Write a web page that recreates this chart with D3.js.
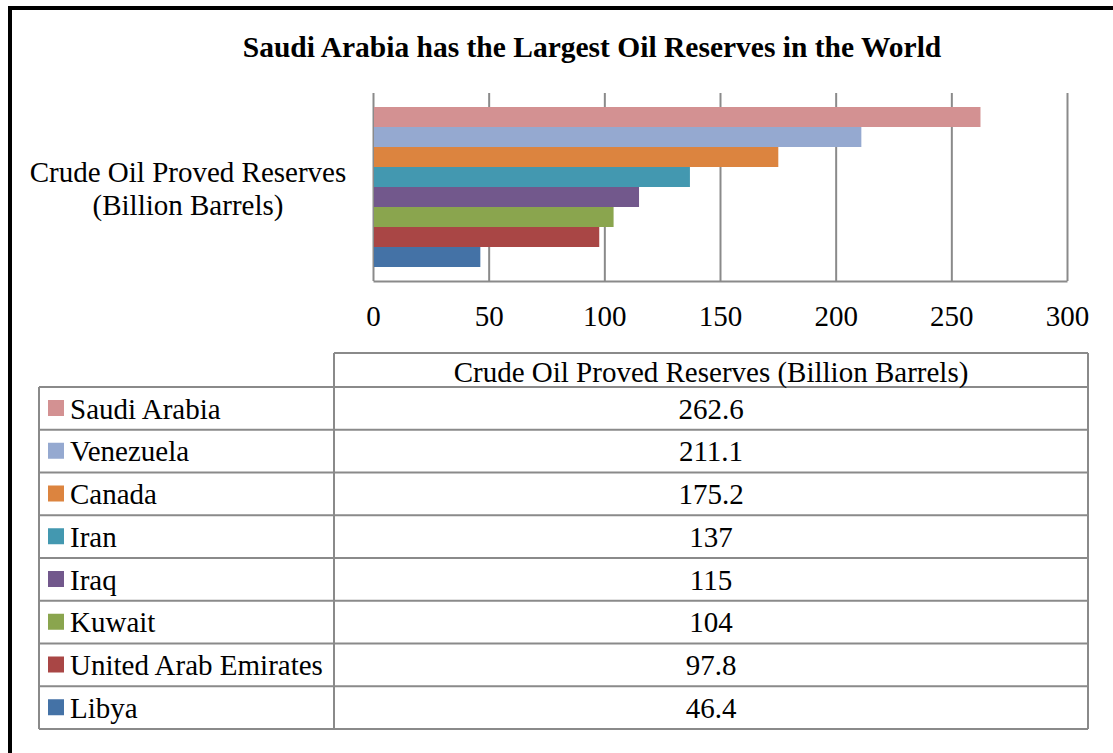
<!DOCTYPE html>
<html>
<head>
<meta charset="utf-8">
<script src="https://cdn.jsdelivr.net/npm/d3@7"></script>
<style>
  html, body { margin: 0; padding: 0; background: #fff; }
  svg { display: block; }
  text { font-family: "Liberation Serif", "Times New Roman", serif; fill: #000; }
</style>
</head>
<body>
<svg id="chart" width="1113" height="753"></svg>
<script>
// Crude oil proved reserves, billion barrels
const countries = ["Saudi Arabia", "Venezuela", "Canada", "Iran", "Iraq", "Kuwait", "United Arab Emirates", "Libya"];
const reserves = [262.6, 211.1, 175.2, 137, 115, 104, 97.8, 46.4];
const colors = ["#d39192", "#95a9d0", "#dc843f", "#4398b0", "#72588c", "#8aa54e", "#a94645", "#4472a6"];
const xTicks = [0, 50, 100, 150, 200, 250, 300];
const seriesLabel = "Crude Oil Proved Reserves (Billion Barrels)";
const axisLabelLines = ["Crude Oil Proved Reserves", "(Billion Barrels)"];
const title = "Saudi Arabia has the Largest Oil Reserves in the World";

const svg = d3.select("#chart");
const gridColor = "#8a8a8a";

// Outer frame (top and left edges)
svg.append("line").attr("x1", 8).attr("x2", 1113).attr("y1", 8).attr("y2", 8)
  .attr("stroke", "#000").attr("stroke-width", 4);
svg.append("line").attr("x1", 10).attr("x2", 10).attr("y1", 6).attr("y2", 753)
  .attr("stroke", "#000").attr("stroke-width", 4);

// Title
svg.append("text").attr("x", 592).attr("y", 57).attr("text-anchor", "middle")
  .style("font-size", "29.5px").style("font-weight", "bold").text(title);

// Plot area
const plot = { left: 373, right: 1067, top: 93, bottom: 281 };
const x = d3.scaleLinear().domain([0, 300]).range([plot.left, plot.right]);
const y = d3.scaleBand().domain(countries).range([plot.top, plot.bottom]).paddingOuter(0.7).paddingInner(0);

// Vertical gridlines
const grid = svg.append("g").attr("transform", `translate(0,${plot.top})`)
  .call(d3.axisTop(x).tickValues(xTicks).tickSize(-(plot.bottom - plot.top)).tickFormat(""));
grid.select(".domain").remove();
grid.selectAll(".tick line").attr("stroke", gridColor).attr("stroke-width", 2);

// Bars
svg.append("g").selectAll("rect").data(countries).join("rect")
  .attr("x", x(0) + 1)
  .attr("y", d => y(d))
  .attr("width", (d, i) => x(reserves[i]) - x(0) - 1)
  .attr("height", y.bandwidth())
  .attr("fill", (d, i) => colors[i]);

// Bottom axis
const xAxis = svg.append("g").attr("transform", `translate(0,${plot.bottom})`)
  .call(d3.axisBottom(x).tickValues(xTicks).tickSize(0).tickPadding(24));
xAxis.select(".domain").attr("stroke", gridColor).attr("stroke-width", 2);
xAxis.selectAll(".tick text").style("font-size", "29px")
  .style("font-family", '"Liberation Serif", "Times New Roman", serif').attr("fill", "#000");

// Axis category label
svg.append("text").attr("x", 188).attr("text-anchor", "middle").style("font-size", "29px")
  .selectAll("tspan").data(axisLabelLines).join("tspan")
  .attr("x", 188).attr("y", (d, i) => 182 + i * 33).text(d => d);

// Data table
const table = { left: 39, mid: 334, right: 1088, headTop: 353, bodyTop: 387, rowH: 42.75 };
const tg = svg.append("g").attr("stroke", gridColor).attr("stroke-width", 2).attr("fill", "none");
const bodyBottom = table.bodyTop + table.rowH * countries.length;
// header cell
tg.append("line").attr("x1", table.mid).attr("x2", table.right).attr("y1", table.headTop).attr("y2", table.headTop);
tg.append("line").attr("x1", table.mid).attr("x2", table.mid).attr("y1", table.headTop).attr("y2", bodyBottom);
tg.append("line").attr("x1", table.right).attr("x2", table.right).attr("y1", table.headTop).attr("y2", bodyBottom);
tg.append("line").attr("x1", table.left).attr("x2", table.left).attr("y1", table.bodyTop).attr("y2", bodyBottom);
// row lines
tg.selectAll("line.row").data(d3.range(countries.length + 1)).join("line").attr("class", "row")
  .attr("x1", table.left).attr("x2", table.right)
  .attr("y1", i => table.bodyTop + i * table.rowH).attr("y2", i => table.bodyTop + i * table.rowH);

svg.append("text").attr("x", (table.mid + table.right) / 2).attr("y", table.headTop + 28.5)
  .attr("text-anchor", "middle").style("font-size", "29px").text(seriesLabel);

const rows = svg.append("g").selectAll("g").data(countries).join("g")
  .attr("transform", (d, i) => `translate(0,${table.bodyTop + i * table.rowH})`);
rows.append("rect").attr("x", 48).attr("y", 13).attr("width", 16).attr("height", 16)
  .attr("fill", (d, i) => colors[i]);
rows.append("text").attr("x", 70).attr("y", 31.5).style("font-size", "29px").text(d => d);
rows.append("text").attr("x", (table.mid + table.right) / 2).attr("y", 31.5)
  .attr("text-anchor", "middle").style("font-size", "29px").text((d, i) => reserves[i]);
</script>
</body>
</html>
